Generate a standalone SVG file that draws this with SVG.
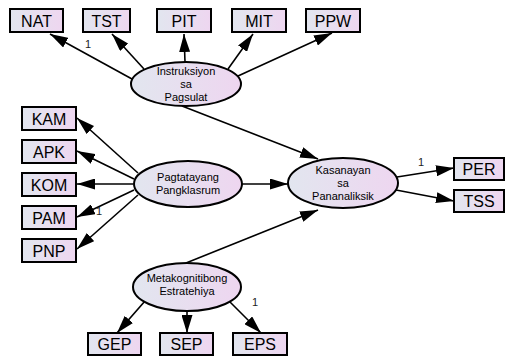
<svg xmlns="http://www.w3.org/2000/svg" width="508" height="358" viewBox="0 0 508 358">
<defs>
<linearGradient id="g" x1="0" y1="0" x2="1" y2="0">
<stop offset="0" stop-color="#e2e6ef"/>
<stop offset="1" stop-color="#eed6f0"/>
</linearGradient>
<marker id="ah" viewBox="0 0 18 11" refX="18" refY="5.5" markerWidth="18" markerHeight="11" markerUnits="userSpaceOnUse" orient="auto">
<path d="M0,0 L18,5.5 L0,11 z" fill="#000"/>
</marker>
</defs>
<style>
.box{fill:url(#g);stroke:#000;stroke-width:2}
.ell{fill:url(#g);stroke:#000;stroke-width:2}
.bt{font-family:"Liberation Sans",Arial,sans-serif;font-size:16px;fill:#000;text-anchor:middle}
.et{font-family:"Liberation Sans",Arial,sans-serif;font-size:11px;fill:#000;text-anchor:middle}
.lb{font-family:"Liberation Sans",Arial,sans-serif;font-size:11px;fill:#222}
.c line{stroke:#000;stroke-width:1.6;marker-end:url(#ah)}
</style>
<g class="c" id="connectors">
<line x1="132" y1="79" x2="50" y2="34"/>
<line x1="144" y1="69" x2="112" y2="34"/>
<line x1="185" y1="62" x2="184" y2="34"/>
<line x1="228" y1="69" x2="253" y2="34"/>
<line x1="238" y1="76" x2="332" y2="33"/>
<line x1="182" y1="106" x2="318" y2="159"/>
<line x1="138" y1="173" x2="77" y2="118"/>
<line x1="134" y1="179" x2="77" y2="151"/>
<line x1="133" y1="184" x2="77" y2="184"/>
<line x1="134" y1="190" x2="77" y2="217"/>
<line x1="138" y1="195" x2="77" y2="249"/>
<line x1="242" y1="184" x2="288" y2="184"/>
<line x1="186" y1="263" x2="318" y2="210"/>
<line x1="397" y1="177" x2="454" y2="168"/>
<line x1="396" y1="190" x2="454" y2="201"/>
<line x1="145" y1="301" x2="117" y2="333"/>
<line x1="187" y1="311" x2="187" y2="333"/>
<line x1="229" y1="301" x2="261" y2="333"/>
</g>
<g id="labels">
<text class="lb" x="85" y="48">1</text>
<text class="lb" x="96" y="215">1</text>
<text class="lb" x="418" y="166">1</text>
<text class="lb" x="252" y="306">1</text>
</g>
<g id="NAT"><rect class="box" x="10" y="9" width="53" height="23"/><text class="bt" x="36.5" y="27">NAT</text></g>
<g id="TST"><rect class="box" x="83" y="9" width="47" height="23"/><text class="bt" x="106.5" y="27">TST</text></g>
<g id="PIT"><rect class="box" x="157" y="9" width="54" height="23"/><text class="bt" x="184" y="27">PIT</text></g>
<g id="MIT"><rect class="box" x="232" y="9" width="54" height="23"/><text class="bt" x="259" y="27">MIT</text></g>
<g id="PPW"><rect class="box" x="306" y="9" width="54" height="23"/><text class="bt" x="333" y="27">PPW</text></g>
<g id="Instruksiyon"><ellipse class="ell" cx="186" cy="84" rx="55" ry="22"/><text class="et" x="186" y="75">Instruksiyon</text><text class="et" x="186" y="88">sa</text><text class="et" x="186" y="101">Pagsulat</text></g>
<g id="KAM"><rect class="box" x="22" y="107" width="54" height="23"/><text class="bt" x="49" y="125">KAM</text></g>
<g id="APK"><rect class="box" x="22" y="140" width="54" height="23"/><text class="bt" x="49" y="158">APK</text></g>
<g id="KOM"><rect class="box" x="22" y="173" width="54" height="23"/><text class="bt" x="49" y="191">KOM</text></g>
<g id="PAM"><rect class="box" x="22" y="206" width="54" height="23"/><text class="bt" x="49" y="224">PAM</text></g>
<g id="PNP"><rect class="box" x="22" y="239" width="54" height="23"/><text class="bt" x="49" y="257">PNP</text></g>
<g id="Pagtatayang"><ellipse class="ell" cx="188" cy="184" rx="54" ry="23"/><text class="et" x="188" y="181">Pagtatayang</text><text class="et" x="188" y="194">Pangklasrum</text></g>
<g id="Kasanayan"><ellipse class="ell" cx="343" cy="183" rx="55" ry="25"/><text class="et" x="343" y="174">Kasanayan</text><text class="et" x="343" y="187">sa</text><text class="et" x="343" y="200">Pananaliksik</text></g>
<g id="PER"><rect class="box" x="454" y="158" width="50" height="22"/><text class="bt" x="479" y="175">PER</text></g>
<g id="TSS"><rect class="box" x="454" y="190" width="50" height="22"/><text class="bt" x="479" y="207">TSS</text></g>
<g id="Metakognitibong"><ellipse class="ell" cx="187" cy="287" rx="54" ry="24"/><text class="et" x="187" y="282">Metakognitibong</text><text class="et" x="187" y="295">Estratehiya</text></g>
<g id="GEP"><rect class="box" x="88" y="333" width="53" height="22"/><text class="bt" x="114.5" y="350">GEP</text></g>
<g id="SEP"><rect class="box" x="160" y="333" width="53" height="22"/><text class="bt" x="186.5" y="350">SEP</text></g>
<g id="EPS"><rect class="box" x="233" y="333" width="54" height="22"/><text class="bt" x="260" y="350">EPS</text></g>
</svg>
